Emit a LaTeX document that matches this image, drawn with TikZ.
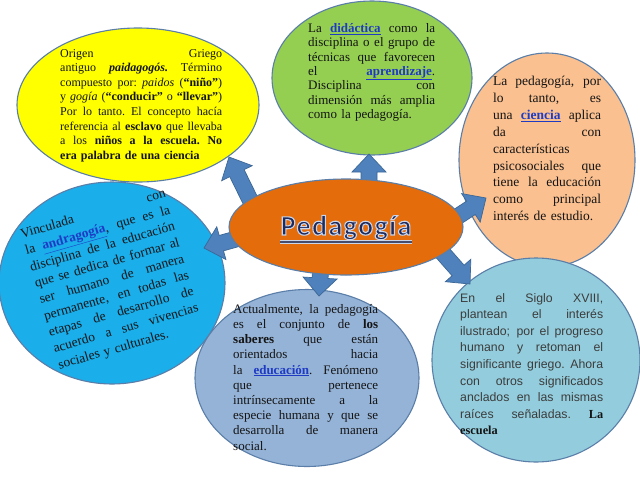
\documentclass[tikz,border=0pt]{standalone}
\usepackage{fontspec}
\setmainfont{Liberation Serif}
\newfontfamily\arialf{Liberation Sans}
\newfontfamily\calib{Carlito}[LetterSpace=5]
\usetikzlibrary{shapes.geometric,calc}
\definecolor{yel}{HTML}{FFFF00}
\definecolor{grn}{HTML}{94CF52}
\definecolor{pch}{HTML}{FAC090}
\definecolor{cya}{HTML}{1AAEEB}
\definecolor{org}{HTML}{E46C0A}
\definecolor{bgr}{HTML}{95B3D7}
\definecolor{lbl}{HTML}{93CDDD}
\definecolor{edgec}{HTML}{5A7EA8}
\definecolor{arrc}{HTML}{4F81BD}
\definecolor{arrb}{HTML}{3C6796}
\definecolor{linkc}{HTML}{1F3BC4}
\definecolor{textc}{HTML}{141414}
\definecolor{grayt}{HTML}{3C3C3C}
\definecolor{navy}{HTML}{1F2A5A}
\definecolor{halo}{HTML}{C9D6EC}
\newcommand{\jl}[2]{\leavevmode\hbox to #1{\spaceskip=0.25em plus 1fil\relax\xspaceskip=0.25em plus 1fil\relax #2}}
\newcommand{\lnk}[1]{\textcolor{linkc}{\underline{\textbf{#1}}}}
\newcommand{\barrow}[2]{%
  \draw[blockarrow] let \p1=($(#2)-(#1)$), \n1={atan2(\y1,\x1)}, \n2={veclen(\x1,\y1)-18} in
  ($(#1)+(\n1+90:8pt)$) -- ($(#1)+(\n1:\n2)+(\n1+90:8pt)$) -- ($(#1)+(\n1:\n2)+(\n1+90:17pt)$)
  -- (#2) -- ($(#1)+(\n1:\n2)+(\n1-90:17pt)$) -- ($(#1)+(\n1:\n2)+(\n1-90:8pt)$)
  -- ($(#1)+(\n1-90:8pt)$) -- cycle;}
\tikzset{
  bubble/.style={ellipse, draw=edgec, line width=1.1pt, inner sep=0pt},
  blockarrow/.style={fill=arrc, draw=arrb, line width=0.7pt, line join=miter},
  txt/.style={inner sep=0pt, anchor=north west, align=left, text=textc},
}
\begin{document}
\begin{tikzpicture}[x=1pt,y=-1pt]
\useasboundingbox[fill=white] (0,0) rectangle (640,480);
% outer ellipses
\node[bubble, fill=yel, minimum width=242pt, minimum height=154pt] (yb) at (138,105) {};
\node[bubble, fill=grn, minimum width=200pt, minimum height=154pt] (gb) at (372,78) {};
\node[bubble, fill=pch, minimum width=176pt, minimum height=214pt] (pb) at (547,160) {};
\node[bubble, fill=cya, minimum width=226pt, minimum height=202pt] (cb) at (112,283) {};
\node[bubble, fill=bgr, minimum width=224pt, minimum height=177pt] (bb) at (307,378) {};
\node[bubble, fill=lbl, minimum width=208pt, minimum height=204pt] (lb) at (536,360) {};
% arrows
\coordinate (t1) at (256,212); \coordinate (h1) at (229,157);
\coordinate (t2) at (369,190); \coordinate (h2) at (369,154);
\coordinate (t3) at (440,228); \coordinate (h3) at (486,198);
\coordinate (t4) at (254,234); \coordinate (h4) at (204,248);
\coordinate (t5) at (321,262); \coordinate (h5) at (319,296);
\coordinate (t6) at (426,234); \coordinate (h6) at (470,284);
\barrow{t1}{h1}
\barrow{t2}{h2}
\barrow{t3}{h3}
\barrow{t4}{h4}
\barrow{t5}{h5}
\barrow{t6}{h6}
% center
\node[bubble, fill=org, minimum width=234pt, minimum height=96pt] (ctr) at (346,227) {};
\node[inner sep=0pt, anchor=base, text=navy, font=\calib\bfseries\fontsize{28}{30}\selectfont] (ttl) at (346,235) {\special{pdf:literal 2 Tr 1.1 w 0.79 0.84 0.93 RG}Pedagogía\special{pdf:literal 0 Tr}};
\draw[halo, line width=3.4pt] ([yshift=-7pt]ttl.base west) -- ([yshift=-7pt]ttl.base east);
\draw[navy!60!gray, line width=1.6pt] ([yshift=-7pt]ttl.base west) -- ([yshift=-7pt]ttl.base east);
% texts
\node[txt, text width=162pt, font=\fontsize{12}{14.6}\selectfont] (ty) at (60,49) {%
\jl{162pt}{Origen Griego}\\
\jl{162pt}{antiguo \textbf{\textit{paidagogós.}} Término}\\
\jl{162pt}{compuesto por: \textit{paidos} (\textbf{“niño”})}\\
\jl{162pt}{y \textit{gogía} (\textbf{“conducir”} o \textbf{“llevar”})}\\
\jl{162pt}{Por lo tanto. El concepto hacía}\\
\jl{162pt}{referencia al \textbf{esclavo} que llevaba}\\
\jl{162pt}{a los \textbf{niños a la escuela. No}}\\
\textbf{era palabra de una ciencia}};
\node[txt, text width=127pt, font=\fontsize{13}{14.4}\selectfont] (tg) at (308,23) {%
\jl{127pt}{La \lnk{didáctica} como la}\\
\jl{127pt}{disciplina o el grupo de}\\
\jl{127pt}{técnicas que favorecen}\\
\jl{127pt}{el \lnk{aprendizaje}.}\\
\jl{127pt}{Disciplina con}\\
\jl{127pt}{dimensión más amplia}\\
como la pedagogía.};
\node[txt, text width=108pt, font=\fontsize{13.5}{16.9}\selectfont] (tp) at (493,76) {%
\jl{108pt}{La pedagogía, por}\\
\jl{108pt}{lo tanto, es}\\
\jl{108pt}{una \lnk{ciencia} aplica}\\
\jl{108pt}{da con}\\
características\\
\jl{108pt}{psicosociales que}\\
\jl{108pt}{tiene la educación}\\
\jl{108pt}{como principal}\\
interés de estudio.};
\node[inner sep=0pt, align=left, text=textc, text width=150pt, rotate=16, font=\fontsize{13.5}{17}\selectfont] (tc) at (112,280) {%
\jl{150pt}{Vinculada con}\\
\jl{150pt}{la \lnk{andragogía}, que es la}\\
\jl{150pt}{disciplina de la educación}\\
\jl{150pt}{que se dedica de formar al}\\
\jl{150pt}{ser humano de manera}\\
\jl{150pt}{permanente, en todas las}\\
\jl{150pt}{etapas de desarrollo de}\\
\jl{150pt}{acuerdo a sus vivencias}\\
sociales y culturales.};
\node[txt, text width=145pt, font=\fontsize{13}{15.2}\selectfont] (tb) at (233,304) {%
\jl{145pt}{Actualmente, la pedagogía}\\
\jl{145pt}{es el conjunto de \textbf{los}}\\
\jl{145pt}{\textbf{saberes} que están}\\
\jl{145pt}{orientados hacia}\\
\jl{145pt}{la \lnk{educación}. Fenómeno}\\
\jl{145pt}{que pertenece}\\
\jl{145pt}{intrínsecamente a la}\\
\jl{145pt}{especie humana y que se}\\
\jl{145pt}{desarrolla de manera}\\
social.};
\node[txt, text=grayt, text width=143pt, font=\arialf\fontsize{12.3}{16.6}\selectfont] (tl) at (460,293) {%
\jl{143pt}{En el Siglo XVIII,}\\
\jl{143pt}{plantean el interés}\\
\jl{143pt}{ilustrado; por el progreso}\\
\jl{143pt}{humano y retoman el}\\
\jl{143pt}{significante griego. Ahora}\\
\jl{143pt}{con otros significados}\\
\jl{143pt}{anclados en las mismas}\\
\jl{143pt}{raíces señaladas. {\rmfamily\bfseries\color{textc}La}}\\
{\rmfamily\bfseries\color{textc}escuela}};
\end{tikzpicture}
\end{document}
